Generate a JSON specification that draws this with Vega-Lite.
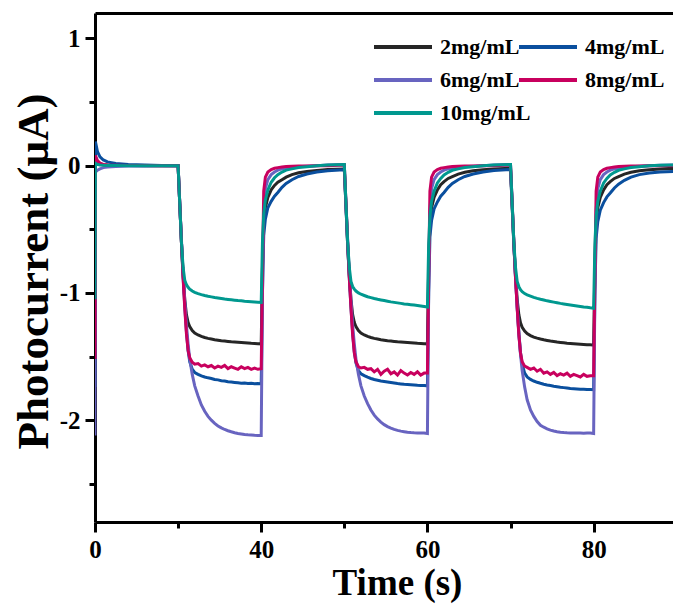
{
"$schema": "https://vega.github.io/schema/vega-lite/v6.json",
"width": 578, "height": 509,
"autosize": {"type": "none"},
"padding": {"left": 95, "top": 13, "right": 0, "bottom": 86},
"background": "white",
"config": {"view": {"stroke": null}, "font": "Liberation Serif"},
"data": {"values": [
{"t":20,"c2":-1.40,"c4":-1.74,"c6":-2.12,"c8":-1.52,"c10":-1.05},
{"t":20.05,"c2":0.05,"c4":0.19,"c6":-0.05,"c8":0.08,"c10":0.02},
{"t":20.3,"c2":0.03,"c4":0.11,"c6":-0.035,"c8":0.04,"c10":0.01},
{"t":20.6,"c2":0.015,"c4":0.07,"c6":-0.025,"c8":0.02,"c10":0.005},
{"t":21,"c2":0.008,"c4":0.045,"c6":-0.015,"c8":0.01,"c10":0.003},
{"t":21.5,"c2":0.005,"c4":0.03,"c6":-0.01,"c8":0.005,"c10":0.002},
{"t":22.5,"c2":0.003,"c4":0.018,"c6":-0.006,"c8":0.003,"c10":0.001},
{"t":24,"c2":0.001,"c4":0.01,"c6":-0.003,"c8":0.002,"c10":0},
{"t":26,"c2":0,"c4":0.005,"c6":-0.002,"c8":0.001,"c10":0},
{"t":28,"c2":0,"c4":0.002,"c6":-0.001,"c8":0,"c10":0},
{"t":29.95,"c2":0,"c4":0,"c6":0,"c8":0,"c10":0},
{"t":30,"c2":0,"c4":0,"c6":0,"c8":0,"c10":0},
{"t":30.2,"c2":-0.30,"c4":-0.30,"c6":-0.30,"c8":-0.30,"c10":-0.30},
{"t":30.4,"c2":-0.60,"c4":-0.60,"c6":-0.58,"c8":-0.60,"c10":-0.60},
{"t":30.6,"c2":-0.85,"c4":-0.87,"c6":-0.84,"c8":-0.88,"c10":-0.80},
{"t":30.8,"c2":-1.05,"c4":-1.10,"c6":-1.06,"c8":-1.12,"c10":-0.90},
{"t":31.0,"c2":-1.17,"c4":-1.30,"c6":-1.25,"c8":-1.32,"c10":-0.935},
{"t":31.2,"c2":-1.23,"c4":-1.45,"c6":-1.40,"c8":-1.45,"c10":-0.955},
{"t":31.4,"c2":-1.265,"c4":-1.54,"c6":-1.52,"c8":-1.51,"c10":-0.97},
{"t":31.7,"c2":-1.295,"c4":-1.60,"c6":-1.64,"c8":-1.545,"c10":-0.985},
{"t":32.0,"c2":-1.315,"c4":-1.625,"c6":-1.73,"c8":-1.56,"c10":-0.995},
{"t":32.4,"c2":-1.33,"c4":-1.64,"c6":-1.81,"c8":-1.555,"c10":-1.005},
{"t":32.8,"c2":-1.342,"c4":-1.652,"c6":-1.88,"c8":-1.575,"c10":-1.013},
{"t":33.2,"c2":-1.35,"c4":-1.66,"c6":-1.93,"c8":-1.565,"c10":-1.02},
{"t":33.6,"c2":-1.357,"c4":-1.667,"c6":-1.97,"c8":-1.58,"c10":-1.026},
{"t":34.0,"c2":-1.362,"c4":-1.672,"c6":-2.0,"c8":-1.57,"c10":-1.031},
{"t":34.4,"c2":-1.367,"c4":-1.68,"c6":-2.025,"c8":-1.59,"c10":-1.036},
{"t":34.8,"c2":-1.371,"c4":-1.683,"c6":-2.045,"c8":-1.575,"c10":-1.04},
{"t":35.2,"c2":-1.375,"c4":-1.69,"c6":-2.06,"c8":-1.585,"c10":-1.044},
{"t":35.6,"c2":-1.378,"c4":-1.692,"c6":-2.073,"c8":-1.57,"c10":-1.048},
{"t":36.0,"c2":-1.381,"c4":-1.698,"c6":-2.083,"c8":-1.595,"c10":-1.051},
{"t":36.4,"c2":-1.384,"c4":-1.70,"c6":-2.091,"c8":-1.58,"c10":-1.054},
{"t":36.8,"c2":-1.386,"c4":-1.703,"c6":-2.098,"c8":-1.59,"c10":-1.057},
{"t":37.2,"c2":-1.388,"c4":-1.706,"c6":-2.104,"c8":-1.60,"c10":-1.06},
{"t":37.6,"c2":-1.39,"c4":-1.71,"c6":-2.108,"c8":-1.58,"c10":-1.062},
{"t":38.0,"c2":-1.392,"c4":-1.707,"c6":-2.112,"c8":-1.595,"c10":-1.065},
{"t":38.4,"c2":-1.394,"c4":-1.712,"c6":-2.115,"c8":-1.585,"c10":-1.067},
{"t":38.8,"c2":-1.396,"c4":-1.71,"c6":-2.117,"c8":-1.60,"c10":-1.069},
{"t":39.2,"c2":-1.397,"c4":-1.714,"c6":-2.119,"c8":-1.59,"c10":-1.071},
{"t":39.6,"c2":-1.399,"c4":-1.712,"c6":-2.12,"c8":-1.60,"c10":-1.073},
{"t":40.0,"c2":-1.40,"c4":-1.715,"c6":-2.12,"c8":-1.595,"c10":-1.075},
{"t":40.15,"c2":-0.8,"c4":-1.0,"c6":-1.0,"c8":-0.85,"c10":-0.6},
{"t":40.3,"c2":-0.45,"c4":-0.55,"c6":-0.35,"c8":-0.2,"c10":-0.38},
{"t":40.5,"c2":-0.33,"c4":-0.42,"c6":-0.18,"c8":-0.09,"c10":-0.27},
{"t":40.8,"c2":-0.25,"c4":-0.33,"c6":-0.11,"c8":-0.05,"c10":-0.19},
{"t":41.2,"c2":-0.19,"c4":-0.28,"c6":-0.07,"c8":-0.03,"c10":-0.13},
{"t":41.6,"c2":-0.155,"c4":-0.24,"c6":-0.05,"c8":-0.02,"c10":-0.095},
{"t":42.0,"c2":-0.13,"c4":-0.21,"c6":-0.035,"c8":-0.015,"c10":-0.07},
{"t":42.5,"c2":-0.11,"c4":-0.17,"c6":-0.025,"c8":-0.01,"c10":-0.05},
{"t":43.0,"c2":-0.09,"c4":-0.14,"c6":-0.018,"c8":-0.007,"c10":-0.035},
{"t":43.7,"c2":-0.07,"c4":-0.11,"c6":-0.012,"c8":-0.005,"c10":-0.025},
{"t":44.5,"c2":-0.055,"c4":-0.085,"c6":-0.008,"c8":-0.003,"c10":-0.015},
{"t":45.5,"c2":-0.045,"c4":-0.065,"c6":-0.004,"c8":-0.002,"c10":-0.008},
{"t":46.7,"c2":-0.037,"c4":-0.05,"c6":0,"c8":0,"c10":0},
{"t":48.0,"c2":-0.03,"c4":-0.04,"c6":0.005,"c8":0,"c10":0.005},
{"t":49.95,"c2":-0.025,"c4":-0.032,"c6":0.01,"c8":0.005,"c10":0.01},
{"t":50.0,"c2":-0.025,"c4":-0.032,"c6":0.01,"c8":0.005,"c10":0.01},
{"t":50.2,"c2":-0.32,"c4":-0.32,"c6":-0.30,"c8":-0.30,"c10":-0.30},
{"t":50.4,"c2":-0.62,"c4":-0.62,"c6":-0.58,"c8":-0.60,"c10":-0.60},
{"t":50.6,"c2":-0.86,"c4":-0.88,"c6":-0.84,"c8":-0.88,"c10":-0.80},
{"t":50.8,"c2":-1.05,"c4":-1.11,"c6":-1.06,"c8":-1.12,"c10":-0.91},
{"t":51.0,"c2":-1.17,"c4":-1.31,"c6":-1.25,"c8":-1.33,"c10":-0.95},
{"t":51.2,"c2":-1.23,"c4":-1.46,"c6":-1.40,"c8":-1.47,"c10":-0.97},
{"t":51.4,"c2":-1.265,"c4":-1.55,"c6":-1.52,"c8":-1.54,"c10":-0.985},
{"t":51.7,"c2":-1.295,"c4":-1.61,"c6":-1.64,"c8":-1.58,"c10":-1.0},
{"t":52.0,"c2":-1.315,"c4":-1.635,"c6":-1.73,"c8":-1.59,"c10":-1.01},
{"t":52.4,"c2":-1.33,"c4":-1.65,"c6":-1.81,"c8":-1.585,"c10":-1.02},
{"t":52.8,"c2":-1.342,"c4":-1.662,"c6":-1.87,"c8":-1.60,"c10":-1.03},
{"t":53.2,"c2":-1.35,"c4":-1.672,"c6":-1.92,"c8":-1.595,"c10":-1.037},
{"t":53.6,"c2":-1.357,"c4":-1.68,"c6":-1.96,"c8":-1.62,"c10":-1.044},
{"t":54.0,"c2":-1.362,"c4":-1.686,"c6":-1.99,"c8":-1.60,"c10":-1.05},
{"t":54.4,"c2":-1.367,"c4":-1.692,"c6":-2.015,"c8":-1.64,"c10":-1.055},
{"t":54.8,"c2":-1.371,"c4":-1.696,"c6":-2.035,"c8":-1.615,"c10":-1.06},
{"t":55.2,"c2":-1.375,"c4":-1.70,"c6":-2.05,"c8":-1.60,"c10":-1.065},
{"t":55.6,"c2":-1.378,"c4":-1.704,"c6":-2.062,"c8":-1.635,"c10":-1.07},
{"t":56.0,"c2":-1.381,"c4":-1.708,"c6":-2.072,"c8":-1.62,"c10":-1.074},
{"t":56.4,"c2":-1.384,"c4":-1.712,"c6":-2.08,"c8":-1.645,"c10":-1.078},
{"t":56.8,"c2":-1.386,"c4":-1.715,"c6":-2.086,"c8":-1.61,"c10":-1.082},
{"t":57.2,"c2":-1.388,"c4":-1.718,"c6":-2.09,"c8":-1.63,"c10":-1.086},
{"t":57.6,"c2":-1.39,"c4":-1.72,"c6":-2.094,"c8":-1.645,"c10":-1.089},
{"t":58.0,"c2":-1.392,"c4":-1.722,"c6":-2.097,"c8":-1.625,"c10":-1.092},
{"t":58.4,"c2":-1.394,"c4":-1.724,"c6":-2.099,"c8":-1.64,"c10":-1.095},
{"t":58.8,"c2":-1.396,"c4":-1.726,"c6":-2.1,"c8":-1.62,"c10":-1.098},
{"t":59.2,"c2":-1.397,"c4":-1.727,"c6":-2.1,"c8":-1.645,"c10":-1.102},
{"t":59.6,"c2":-1.399,"c4":-1.728,"c6":-2.1,"c8":-1.63,"c10":-1.106},
{"t":60.0,"c2":-1.40,"c4":-1.73,"c6":-2.105,"c8":-1.63,"c10":-1.11},
{"t":60.15,"c2":-0.8,"c4":-1.0,"c6":-1.0,"c8":-0.87,"c10":-0.62},
{"t":60.3,"c2":-0.45,"c4":-0.56,"c6":-0.35,"c8":-0.2,"c10":-0.4},
{"t":60.5,"c2":-0.33,"c4":-0.43,"c6":-0.18,"c8":-0.09,"c10":-0.28},
{"t":60.8,"c2":-0.25,"c4":-0.34,"c6":-0.11,"c8":-0.05,"c10":-0.2},
{"t":61.2,"c2":-0.19,"c4":-0.285,"c6":-0.07,"c8":-0.03,"c10":-0.135},
{"t":61.6,"c2":-0.15,"c4":-0.24,"c6":-0.05,"c8":-0.02,"c10":-0.1},
{"t":62.0,"c2":-0.125,"c4":-0.21,"c6":-0.035,"c8":-0.015,"c10":-0.072},
{"t":62.5,"c2":-0.1,"c4":-0.17,"c6":-0.025,"c8":-0.01,"c10":-0.052},
{"t":63.0,"c2":-0.085,"c4":-0.14,"c6":-0.018,"c8":-0.007,"c10":-0.036},
{"t":63.7,"c2":-0.066,"c4":-0.11,"c6":-0.012,"c8":-0.005,"c10":-0.025},
{"t":64.5,"c2":-0.052,"c4":-0.085,"c6":-0.008,"c8":-0.003,"c10":-0.015},
{"t":65.5,"c2":-0.04,"c4":-0.065,"c6":-0.004,"c8":-0.002,"c10":-0.008},
{"t":66.7,"c2":-0.032,"c4":-0.05,"c6":0,"c8":0,"c10":0},
{"t":68.0,"c2":-0.025,"c4":-0.038,"c6":0.005,"c8":0,"c10":0.005},
{"t":69.95,"c2":-0.02,"c4":-0.03,"c6":0.01,"c8":0.005,"c10":0.01},
{"t":70.0,"c2":-0.02,"c4":-0.03,"c6":0.01,"c8":0.005,"c10":0.01},
{"t":70.2,"c2":-0.32,"c4":-0.32,"c6":-0.30,"c8":-0.30,"c10":-0.30},
{"t":70.4,"c2":-0.62,"c4":-0.62,"c6":-0.60,"c8":-0.60,"c10":-0.60},
{"t":70.6,"c2":-0.86,"c4":-0.88,"c6":-0.87,"c8":-0.88,"c10":-0.80},
{"t":70.8,"c2":-1.05,"c4":-1.11,"c6":-1.11,"c8":-1.12,"c10":-0.91},
{"t":71.0,"c2":-1.17,"c4":-1.31,"c6":-1.32,"c8":-1.33,"c10":-0.95},
{"t":71.2,"c2":-1.235,"c4":-1.47,"c6":-1.48,"c8":-1.47,"c10":-0.975},
{"t":71.4,"c2":-1.27,"c4":-1.56,"c6":-1.61,"c8":-1.54,"c10":-0.99},
{"t":71.7,"c2":-1.30,"c4":-1.63,"c6":-1.74,"c8":-1.575,"c10":-1.005},
{"t":72.0,"c2":-1.32,"c4":-1.66,"c6":-1.84,"c8":-1.585,"c10":-1.015},
{"t":72.4,"c2":-1.335,"c4":-1.68,"c6":-1.92,"c8":-1.6,"c10":-1.025},
{"t":72.8,"c2":-1.347,"c4":-1.692,"c6":-1.97,"c8":-1.59,"c10":-1.035},
{"t":73.2,"c2":-1.355,"c4":-1.702,"c6":-2.01,"c8":-1.615,"c10":-1.043},
{"t":73.6,"c2":-1.362,"c4":-1.71,"c6":-2.04,"c8":-1.6,"c10":-1.05},
{"t":74.0,"c2":-1.368,"c4":-1.717,"c6":-2.055,"c8":-1.63,"c10":-1.056},
{"t":74.4,"c2":-1.373,"c4":-1.723,"c6":-2.068,"c8":-1.62,"c10":-1.062},
{"t":74.8,"c2":-1.378,"c4":-1.728,"c6":-2.078,"c8":-1.64,"c10":-1.067},
{"t":75.2,"c2":-1.382,"c4":-1.733,"c6":-2.085,"c8":-1.625,"c10":-1.072},
{"t":75.6,"c2":-1.386,"c4":-1.737,"c6":-2.09,"c8":-1.65,"c10":-1.077},
{"t":76.0,"c2":-1.389,"c4":-1.741,"c6":-2.094,"c8":-1.635,"c10":-1.082},
{"t":76.4,"c2":-1.392,"c4":-1.744,"c6":-2.097,"c8":-1.645,"c10":-1.086},
{"t":76.8,"c2":-1.395,"c4":-1.747,"c6":-2.099,"c8":-1.63,"c10":-1.09},
{"t":77.2,"c2":-1.397,"c4":-1.75,"c6":-2.1,"c8":-1.655,"c10":-1.094},
{"t":77.6,"c2":-1.399,"c4":-1.752,"c6":-2.1,"c8":-1.64,"c10":-1.098},
{"t":78.0,"c2":-1.401,"c4":-1.754,"c6":-2.101,"c8":-1.65,"c10":-1.102},
{"t":78.4,"c2":-1.403,"c4":-1.756,"c6":-2.1,"c8":-1.66,"c10":-1.106},
{"t":78.8,"c2":-1.405,"c4":-1.757,"c6":-2.102,"c8":-1.64,"c10":-1.11},
{"t":79.2,"c2":-1.407,"c4":-1.758,"c6":-2.1,"c8":-1.655,"c10":-1.113},
{"t":79.6,"c2":-1.408,"c4":-1.759,"c6":-2.1,"c8":-1.65,"c10":-1.117},
{"t":80.0,"c2":-1.41,"c4":-1.76,"c6":-2.105,"c8":-1.65,"c10":-1.12},
{"t":80.15,"c2":-0.8,"c4":-1.0,"c6":-1.0,"c8":-0.87,"c10":-0.62},
{"t":80.3,"c2":-0.45,"c4":-0.57,"c6":-0.35,"c8":-0.2,"c10":-0.4},
{"t":80.5,"c2":-0.33,"c4":-0.44,"c6":-0.18,"c8":-0.09,"c10":-0.28},
{"t":80.8,"c2":-0.25,"c4":-0.35,"c6":-0.11,"c8":-0.05,"c10":-0.2},
{"t":81.2,"c2":-0.19,"c4":-0.29,"c6":-0.07,"c8":-0.03,"c10":-0.135},
{"t":81.6,"c2":-0.15,"c4":-0.245,"c6":-0.05,"c8":-0.02,"c10":-0.1},
{"t":82.0,"c2":-0.125,"c4":-0.215,"c6":-0.035,"c8":-0.015,"c10":-0.072},
{"t":82.5,"c2":-0.1,"c4":-0.175,"c6":-0.025,"c8":-0.01,"c10":-0.052},
{"t":83.0,"c2":-0.085,"c4":-0.145,"c6":-0.018,"c8":-0.007,"c10":-0.036},
{"t":83.7,"c2":-0.066,"c4":-0.115,"c6":-0.012,"c8":-0.005,"c10":-0.025},
{"t":84.5,"c2":-0.052,"c4":-0.09,"c6":-0.008,"c8":-0.003,"c10":-0.015},
{"t":85.5,"c2":-0.04,"c4":-0.07,"c6":-0.004,"c8":-0.002,"c10":-0.008},
{"t":86.7,"c2":-0.032,"c4":-0.058,"c6":0,"c8":0,"c10":0},
{"t":88.0,"c2":-0.025,"c4":-0.05,"c6":0.003,"c8":0,"c10":0.003},
{"t":89.95,"c2":-0.02,"c4":-0.045,"c6":0.005,"c8":0,"c10":0.005}
]},
"transform": [{"fold": ["c2","c4","c6","c8","c10"], "as": ["series","value"]}],
"layer": [
{
"mark": {"type": "line", "strokeWidth": 3, "clip": true},
"encoding": {
"x": {"field": "t", "type": "quantitative",
 "scale": {"domain": [20, 89.55], "nice": false, "zero": false},
 "axis": {"values": [20,30,40,50,60,70,80],
  "labelExpr": "datum.value == 20 ? '0' : (datum.value % 20 == 0 ? datum.label : '')",
  "grid": false, "domainColor": "black", "domainWidth": 3, "tickColor": "black", "tickWidth": 3,
  "tickSize": {"condition": {"test": "datum.value % 20 != 0", "value": 6}, "value": 10},
  "labelFont": "Liberation Serif", "labelFontWeight": "bold", "labelFontSize": 25, "labelColor": "black",
  "labelPadding": 5, "labelOverlap": false, "labelFlush": false,
  "title": "Time (s)", "titleFont": "Liberation Serif", "titleFontWeight": "bold", "titleFontSize": 37,
  "titleColor": "black", "titlePadding": 3, "titleX": 302}},
"y": {"field": "value", "type": "quantitative",
 "scale": {"domain": [-2.8, 1.2], "nice": false, "zero": false},
 "axis": {"values": [-2.5,-2,-1.5,-1,-0.5,0,0.5,1],
  "labelExpr": "datum.value % 1 != 0 ? '' : (datum.value < 0 ? '-' + abs(datum.value) : '' + datum.value)",
  "grid": false, "domainColor": "black", "domainWidth": 3, "tickColor": "black", "tickWidth": 3,
  "tickSize": {"condition": {"test": "datum.value % 1 != 0", "value": 6}, "value": 10},
  "labelFont": "Liberation Serif", "labelFontWeight": "bold", "labelFontSize": 25, "labelColor": "black",
  "labelPadding": 5, "labelOverlap": false, "labelFlush": false,
  "title": "Photocurrent (μA)", "titleFont": "Liberation Serif", "titleFontWeight": "bold", "titleFontSize": 45,
  "titleColor": "black", "titlePadding": 3, "titleY": 258}},
"color": {"field": "series", "type": "nominal",
 "scale": {"domain": ["c2","c4","c6","c8","c10"], "range": ["#262626","#0a4f9e","#6864c0","#c8005e","#00988f"]},
 "legend": {"orient": "none", "legendX": 277, "legendY": 3, "columns": 2, "direction": "horizontal", "gridAlign": "none", "title": null,
  "symbolType": "stroke", "symbolSize": 3364, "symbolStrokeWidth": 4,
  "labelFont": "Liberation Serif", "labelFontWeight": "bold", "labelFontSize": 22, "labelColor": "black",
  "labelOffset": 6, "rowPadding": -9, "columnPadding": -20, "padding": 0,
  "labelExpr": "replace(datum.label, 'c', '') + 'mg/mL'"}}
}
},
{
"mark": {"type": "rule", "opacity": 0},
"encoding": {
"x": {"field": "t", "type": "quantitative",
 "scale": {"domain": [20, 89.55], "nice": false, "zero": false},
 "axis": {"orient": "top", "domainColor": "black", "domainWidth": 3, "ticks": false, "labels": false, "title": null, "grid": false}}
}
}
],
"resolve": {"axis": {"x": "independent"}}
}
